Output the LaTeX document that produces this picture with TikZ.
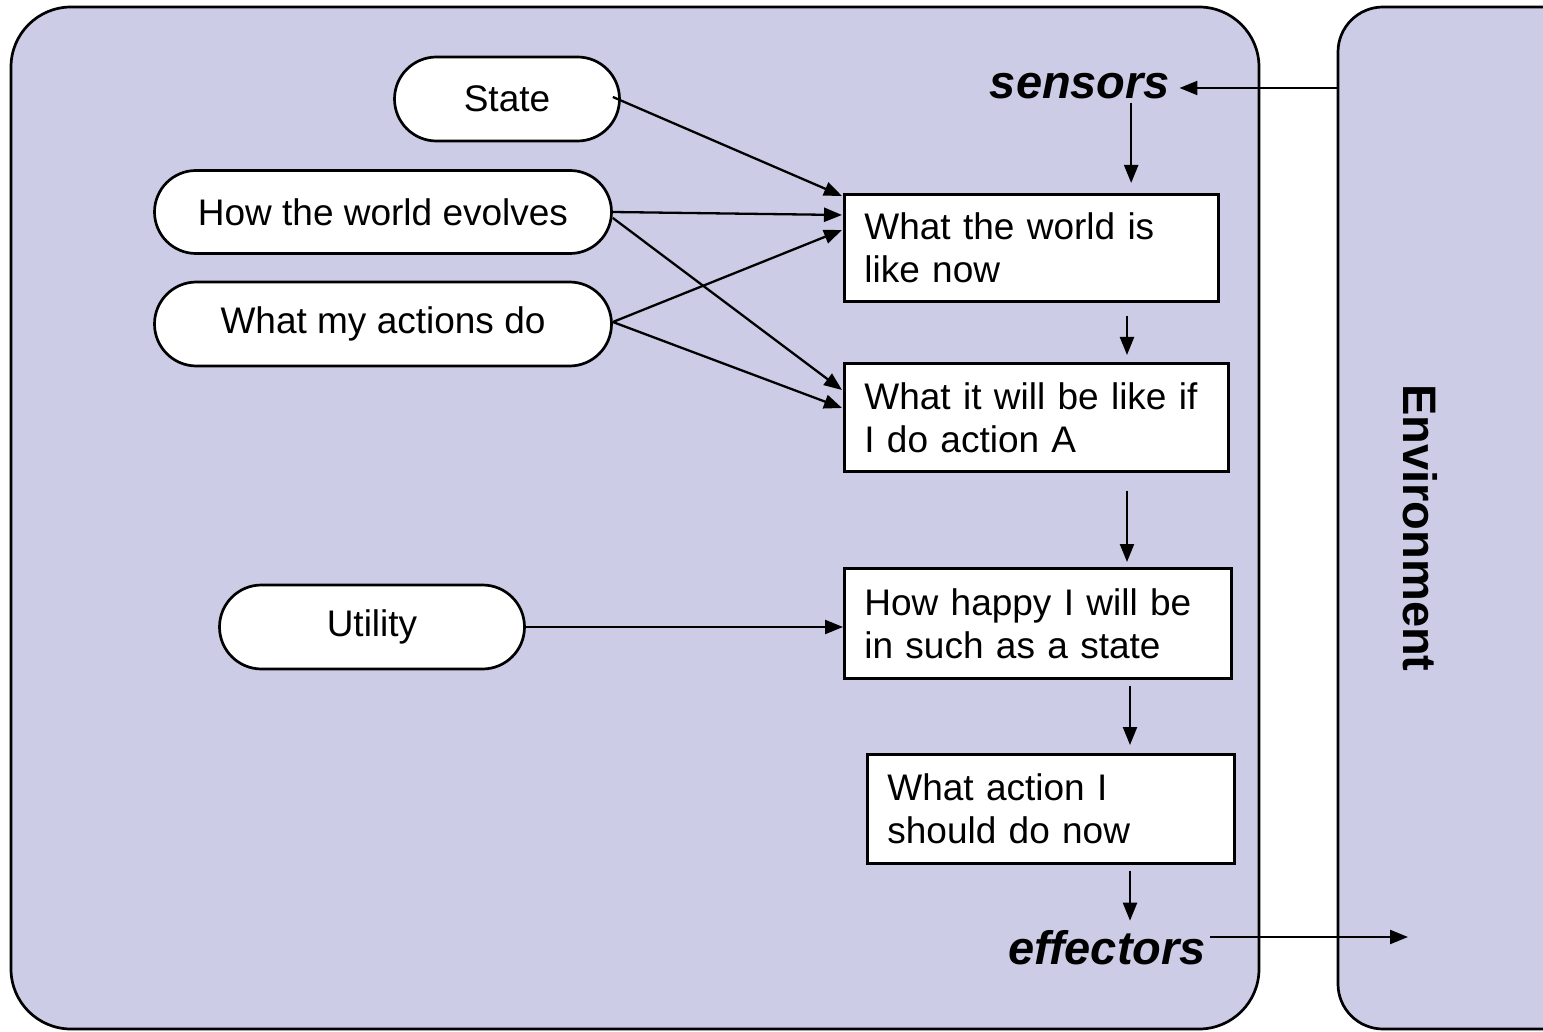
\documentclass[tikz,border=0pt]{standalone}
\usepackage{fontspec}
\setmainfont{Liberation Sans}
\usetikzlibrary{arrows.meta,shapes.misc,calc}
\definecolor{panel}{RGB}{204,204,230}
\begin{document}
\begin{tikzpicture}[x=1pt,y=-1pt,
  line width=2.7pt,
  txt/.style={font=\fontsize{37}{43}\selectfont},
  big/.style={font=\fontsize{47}{52}\selectfont\bfseries\itshape},
  stage/.style={txt,draw,fill=white,rectangle,align=left,inner xsep=20pt,
    inner ysep=0pt,anchor=north west},
  model/.style={txt,draw,fill=white,rounded rectangle,inner sep=0pt},
  flow/.style={line width=2.3pt,-{Triangle[length=18pt,width=14pt]}}]
\useasboundingbox (0,0) rectangle (1543,1032);
\clip (0,0) rectangle (1543,1032);

% agent and environment panels
\draw[fill=panel,rounded corners=60pt] (11,7) rectangle (1259,1029);
\draw[fill=panel,rounded corners=45pt] (1338,7) rectangle (1620,1029);
\node[rotate=-90,font=\fontsize{47}{52}\selectfont\bfseries] (env) at (1420,528) {Environment};

% sensors and effectors
\node[big,inner sep=0pt] (sensors) at (1080,86) {sensors};
\node[big,inner sep=0pt] (effectors) at (1107,948) {effectors};
\coordinate (envin) at (1338,88);
\coordinate (envout) at (1408,937);

% stages of the reasoning chain
\node[stage,text width=334pt,minimum height=107pt] (now) at (843,193)
  {What the world is\\like now};
\node[stage,text width=344pt,minimum height=108pt] (next) at (843,362)
  {What it will be like if\\I do action A};
\node[stage,text width=347pt,minimum height=110pt] (happy) at (843,567)
  {How happy I will be\\in such as a state};
\node[stage,text width=327pt,minimum height=109pt] (act) at (866,753)
  {What action I\\should do now};

% internal knowledge
\node[model,minimum width=225pt,minimum height=84pt] (state) at (507,99) {State};
\node[model,minimum width=457pt,minimum height=83pt] (evolve) at (383,212) {How the world evolves};
\node[model,minimum width=457pt,minimum height=84pt] (actions) at (383,324) {What my actions do};
\node[model,minimum width=305pt,minimum height=84pt] (utility) at (372,627) {Utility};

% connectors
\draw[flow] (envin) -- ($(sensors.east |- envin)+(8,0)$);
\draw[flow] ($(now.north west)!0.765!(now.north east)+(0,-90)$) -- ($(now.north west)!0.765!(now.north east)+(0,-10)$);
\draw[flow] ($(state.east)+(-8,-2)$) -- ($(now.north west)+(-1,3)$);
\draw[flow] (evolve.east) -- ($(now.north west)+(-1,22)$);
\draw[flow] ($(evolve.east)+(0,6)$) -- ($(next.north west)+(-1,28)$);
\draw[flow] ($(actions.east)+(0,-2)$) -- ($(now.north west)+(-1,37)$);
\draw[flow] ($(actions.east)+(0,-2)$) -- ($(next.north west)+(-1,46)$);
\draw[flow] (utility.east) -- (happy.west |- utility.east);
\draw[flow] ($(now.south west)+(284,13)$) -- ($(next.north west)+(284,-7)$);
\draw[flow] ($(next.south west)+(284,18)$) -- ($(happy.north west)+(284,-5)$);
\draw[flow] ($(happy.south west)+(287,6)$) -- ($(act.north west)+(264,-8)$);
\draw[flow] ($(act.south west)+(264,6)$) -- ($(act.south west)+(264,56)$);
\draw[flow] ($(effectors.east |- envout)+(3,0)$) -- (envout);
\end{tikzpicture}
\end{document}
